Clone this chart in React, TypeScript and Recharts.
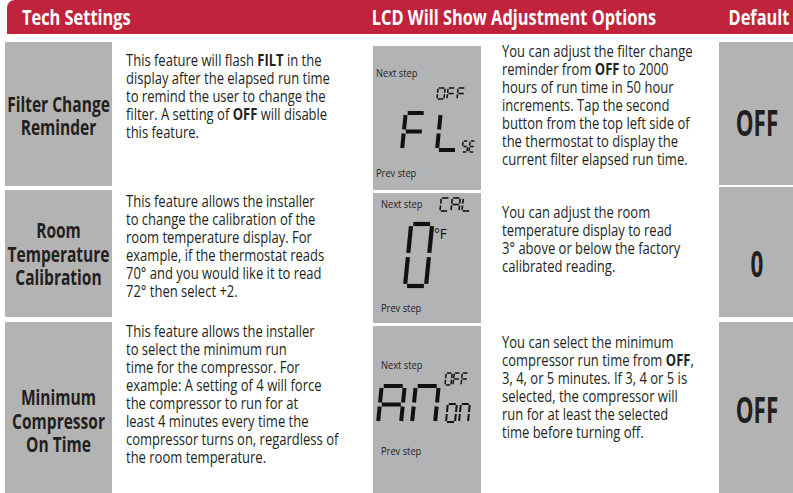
import React from "react";
import { ComposedChart, XAxis, YAxis, ReferenceArea, Customized, Rectangle } from "recharts";

// table content
const headerLabels = ["Tech Settings", "LCD Will Show Adjustment Options", "Default"];

const settingNames = [
  ["Filter Change", "Reminder"],
  ["Room", "Temperature", "Calibration"],
  ["Minimum", "Compressor", "On Time"],
];

const featureLines = [
  [
    "This feature will flash **FILT** in the",
    "display after the elapsed run time",
    "to remind the user to change the",
    "filter. A setting of **OFF** will disable",
    "this feature.",
  ],
  [
    "This feature allows the installer",
    "to change the calibration of the",
    "room temperature display. For",
    "example, if the thermostat reads",
    "70° and you would like  it to read",
    "72° then select +2.",
  ],
  [
    "This feature allows the installer",
    "to select the minimum run",
    "time for the compressor. For",
    "example: A setting of 4 will force",
    "the compressor to run for at",
    "least 4 minutes every time the",
    "compressor turns on, regardless of",
    "the room temperature.",
  ],
];

const lcdTopLabels = ["OFF", "CAL", "OFF"];
const lcdMainLabels = ["FL", "0", "AN"];
const lcdSubLabels = ["5E", "°F", "on"];

const adjustLines = [
  [
    "You can adjust the filter change",
    "reminder from **OFF** to 2000",
    "hours of run time in 50 hour",
    "increments. Tap the second",
    "button from the top left side of",
    "the thermostat to display the",
    "current filter elapsed run time.",
  ],
  [
    "You can adjust the room",
    "temperature display to read",
    "3° above or below the  factory",
    "calibrated reading.",
  ],
  [
    "You can select the minimum",
    "compressor run time from **OFF**,",
    "3, 4, or 5 minutes. If 3, 4 or 5 is",
    "selected, the compressor will",
    "run for at least the selected",
    "time before turning off.",
  ],
];

const defaultValues = ["OFF", "0", "OFF"];

// layout
const W = 793;
const H = 493;
const RED = "#c1233c";
const GRAY = "#b3b3b3";
const LCD_GRAY = "#b2b3b5";
const INK = "#231f20";
const FONT = "'Open Sans', sans-serif";
const BODY_SX = 0.84;
const BOLD_SX = 0.74;
const HEAD_SX = 0.78;
const frame = [
  { x: 0, y: 0 },
  { x: W, y: H },
];

const rows = [
  {
    top: 42, bottom: 186, lcdTop: 46, lcdBottom: 190, defTop: 42, defBottom: 185,
    titleBase: 111.5, featBase: 65.5, adjBase: 57, defBase: 136,
    nextY: 77, prevY: 177, stepX: 376,
    topSeg: { x: 437, y: 88, w: 7, h: 11, pitch: 10, sw: 1.5 },
    mainSeg: { x: 402, y: 113, w: 20, h: 37, pitch: 35, sw: 4 },
    sub: { seg: true, x: 462, y: 141, w: 5, h: 11, pitch: 7, sw: 1.5 },
  },
  {
    top: 190, bottom: 317, lcdTop: 193, lcdBottom: 323, defTop: 187, defBottom: 317,
    titleBase: 238, featBase: 207, adjBase: 217.5, defBase: 277,
    nextY: 208, prevY: 312, stepX: 381,
    topSeg: { x: 440, y: 198, w: 8, h: 13, pitch: 11, sw: 1.6 },
    mainSeg: { x: 405, y: 224, w: 21, h: 62, pitch: 30, sw: 4.2 },
    sub: { seg: false, x: 434, y: 239, size: 15 },
  },
  {
    top: 322, bottom: 493, lcdTop: 326, lcdBottom: 493, defTop: 322, defBottom: 493,
    titleBase: 405, featBase: 337, adjBase: 347.5, defBase: 423,
    nextY: 369, prevY: 455, stepX: 381,
    topSeg: { x: 445, y: 373, w: 6, h: 12, pitch: 8, sw: 1.5 },
    mainSeg: { x: 378, y: 386, w: 23, h: 37, pitch: 34, sw: 4 },
    sub: { seg: true, x: 446, y: 404, w: 9, h: 18, pitch: 13, sw: 2 },
  },
];

const SEG_MAP: Record<string, string> = {
  "0": "abcdef",
  O: "abcdef",
  F: "aefg",
  L: "def",
  "5": "afgcd",
  E: "adefg",
  C: "adef",
  A: "abcefg",
  N: "abcef",
  o: "abcdef",
  n: "abcef",
};

function SevenSeg({ text, x, y, w, h, pitch, sw }: any) {
  const slant = 0.1;
  const hh = h / 2;
  const ins = sw * 0.5;
  const lines: any[] = [];
  [...text].forEach((ch, i) => {
    const ox = x + i * pitch;
    const pt = (px: number, py: number) => [ox + px + (h - py) * slant, y + py];
    const defs: Record<string, number[][]> = {
      a: [[ins, 0], [w - ins, 0]],
      b: [[w, ins], [w, hh - ins]],
      c: [[w, hh + ins], [w, h - ins]],
      d: [[ins, h], [w - ins, h]],
      e: [[0, hh + ins], [0, h - ins]],
      f: [[0, ins], [0, hh - ins]],
      g: [[ins, hh], [w - ins, hh]],
    };
    for (const s of SEG_MAP[ch] || "") {
      const [p1, p2] = defs[s];
      const [x1, y1] = pt(p1[0], p1[1]);
      const [x2, y2] = pt(p2[0], p2[1]);
      lines.push(
        <line key={`${i}${s}`} x1={x1} y1={y1} x2={x2} y2={y2} stroke="#111" strokeWidth={sw} strokeLinecap="butt" />
      );
    }
  });
  return <g>{lines}</g>;
}

function RichLine({ x, y, text, size, weight = 400, anchor = "start", sx = BODY_SX, fill = INK }: any) {
  const parts = text.split(/(\*\*[^*]+\*\*)/).filter(Boolean);
  return (
    <text
      transform={`translate(${x},${y}) scale(${sx},1)`}
      fontFamily={FONT}
      fontSize={size}
      fontWeight={weight}
      fill={fill}
      textAnchor={anchor}
    >
      {parts.map((p: string, i: number) =>
        p.startsWith("**") ? (
          <tspan key={i} fontWeight={700}>{p.slice(2, -2)}</tspan>
        ) : (
          <tspan key={i}>{p}</tspan>
        )
      )}
    </text>
  );
}

// shapes for the reference areas: the cell plus what sits inside it
const headerShape = (p: any) => (
  <g>
    <Rectangle x={p.x} y={p.y} width={p.width} height={p.height} fill={RED} radius={[8, 0, 0, 0]} />
    <RichLine x={22} y={25} text={headerLabels[0]} size={21} weight={700} sx={HEAD_SX} fill="#fff" />
    <RichLine x={514} y={25} text={headerLabels[1]} size={21} weight={700} sx={HEAD_SX} fill="#fff" anchor="middle" />
    <RichLine x={759} y={25} text={headerLabels[2]} size={21} weight={700} sx={HEAD_SX} fill="#fff" anchor="middle" />
  </g>
);

const nameShape = (i: number) => (p: any) => (
  <g>
    <Rectangle x={p.x} y={p.y} width={p.width} height={p.height} fill={GRAY} />
    {settingNames[i].map((t, j) => (
      <RichLine key={j} x={p.x + p.width / 2} y={rows[i].titleBase + j * 23.5} text={t} size={21} weight={700} sx={BOLD_SX} anchor="middle" />
    ))}
  </g>
);

const lcdShape = (i: number) => (p: any) => {
  const r = rows[i];
  return (
    <g>
      <Rectangle x={p.x} y={p.y} width={p.width} height={p.height} fill={LCD_GRAY} />
      <RichLine x={r.stepX} y={r.nextY} text="Next step" size={10} sx={0.93} />
      <RichLine x={r.stepX} y={r.prevY} text="Prev step" size={10} sx={0.93} />
      <SevenSeg text={lcdTopLabels[i]} {...r.topSeg} />
      <SevenSeg text={lcdMainLabels[i]} {...r.mainSeg} />
      {r.sub.seg ? (
        <SevenSeg text={lcdSubLabels[i]} {...r.sub} />
      ) : (
        <RichLine x={r.sub.x} y={r.sub.y} text={lcdSubLabels[i]} size={r.sub.size} sx={0.9} fill="#111" />
      )}
    </g>
  );
};

const defaultShape = (i: number) => (p: any) => (
  <g>
    <Rectangle x={p.x} y={p.y} width={p.width} height={p.height} fill={GRAY} />
    <RichLine x={757} y={rows[i].defBase} text={defaultValues[i]} size={35} weight={700} sx={0.64} anchor="middle" />
  </g>
);

function BodyText() {
  return (
    <g>
      {rows.map((r, i) => (
        <g key={i}>
          {featureLines[i].map((t, j) => (
            <RichLine key={`f${j}`} x={126} y={r.featBase + j * 18} text={t} size={15.5} />
          ))}
          {adjustLines[i].map((t, j) => (
            <RichLine key={`a${j}`} x={502} y={r.adjBase + j * 18} text={t} size={15.5} />
          ))}
        </g>
      ))}
    </g>
  );
}

export default function App() {
  return (
    <div style={{ position: "absolute", left: 0, top: 0, width: W, height: H, background: "#fff" }}>
      <ComposedChart width={W} height={H} data={frame} margin={{ top: 0, right: 0, bottom: 0, left: 0 }}>
        <XAxis type="number" dataKey="x" domain={[0, W]} hide />
        <YAxis type="number" dataKey="y" domain={[0, H]} reversed hide />
        <ReferenceArea x1={7} x2={W} y1={0} y2={34} ifOverflow="visible" shape={headerShape} />
        {rows.map((r, i) => (
          <ReferenceArea key={`n${i}`} x1={5} x2={112} y1={r.top} y2={r.bottom} ifOverflow="visible" shape={nameShape(i)} />
        ))}
        {rows.map((r, i) => (
          <ReferenceArea key={`l${i}`} x1={373} x2={481} y1={r.lcdTop} y2={r.lcdBottom} ifOverflow="visible" shape={lcdShape(i)} />
        ))}
        {rows.map((r, i) => (
          <ReferenceArea key={`d${i}`} x1={719} x2={W} y1={r.defTop} y2={r.defBottom} ifOverflow="visible" shape={defaultShape(i)} />
        ))}
        <Customized component={<BodyText />} />
      </ComposedChart>
    </div>
  );
}
